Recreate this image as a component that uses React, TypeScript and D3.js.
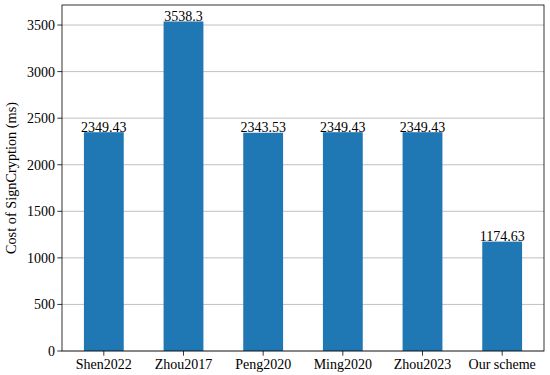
import React from "react";
import * as d3 from "d3";

const categories = ["Shen2022", "Zhou2017", "Peng2020", "Ming2020", "Zhou2023", "Our scheme"];
const values = [2349.43, 3538.3, 2343.53, 2349.43, 2349.43, 1174.63];
const valueLabels = ["2349.43", "3538.3", "2343.53", "2349.43", "2349.43", "1174.63"];
const yTicks = [0, 500, 1000, 1500, 2000, 2500, 3000, 3500];
const yLabel = "Cost of SignCryption (ms)";

export default function App() {
  const W = 550, H = 375;
  const left = 62, right = 544, top = 5, bottom = 351;
  const n = categories.length;
  const x = d3.scaleLinear().domain([-0.525, n - 1 + 0.525]).range([left, right]);
  const yMax = d3.max(values)! * 1.05;
  const y = d3.scaleLinear().domain([0, yMax]).range([bottom, top]);
  const bw = x(0.5) - x(0);
  const font = "'Liberation Serif', 'Times New Roman', serif";
  return (
    <svg width={W} height={H} style={{ position: "absolute", left: 0, top: 0 }} fontFamily={font}>
      <rect x={0} y={0} width={W} height={H} fill="#fff" />
      {yTicks.map((t) => (
        <line key={"g" + t} x1={left} x2={right} y1={y(t)} y2={y(t)} stroke="#b0b0b0" strokeWidth={0.8} />
      ))}
      {values.map((v, i) => (
        <rect key={"b" + i} x={x(i) - bw / 2} y={y(v)} width={bw} height={y(0) - y(v)} fill="#1f77b4" />
      ))}
      {values.map((v, i) => (
        <text key={"l" + i} x={x(i)} y={y(v) - 0.5} textAnchor="middle" fontSize={14} fill="#000">
          {valueLabels[i]}
        </text>
      ))}
      <rect x={left} y={top} width={right - left} height={bottom - top} fill="none" stroke="#000" strokeWidth={0.8} />
      {yTicks.map((t) => (
        <g key={"t" + t}>
          <line x1={left - 4.7} x2={left} y1={y(t)} y2={y(t)} stroke="#000" strokeWidth={0.8} />
          <text x={left - 7} y={y(t)} dy="0.35em" textAnchor="end" fontSize={14} fill="#000">{t}</text>
        </g>
      ))}
      {categories.map((c, i) => (
        <g key={"c" + i}>
          <line x1={x(i)} x2={x(i)} y1={bottom} y2={bottom + 4.7} stroke="#000" strokeWidth={0.8} />
          <text x={x(i)} y={bottom + 18} textAnchor="middle" fontSize={14} fill="#000">{c}</text>
        </g>
      ))}
      <text transform={`translate(15.5,${(top + bottom) / 2}) rotate(-90)`} textAnchor="middle" fontSize={14.3} fill="#000">
        {yLabel}
      </text>
    </svg>
  );
}
